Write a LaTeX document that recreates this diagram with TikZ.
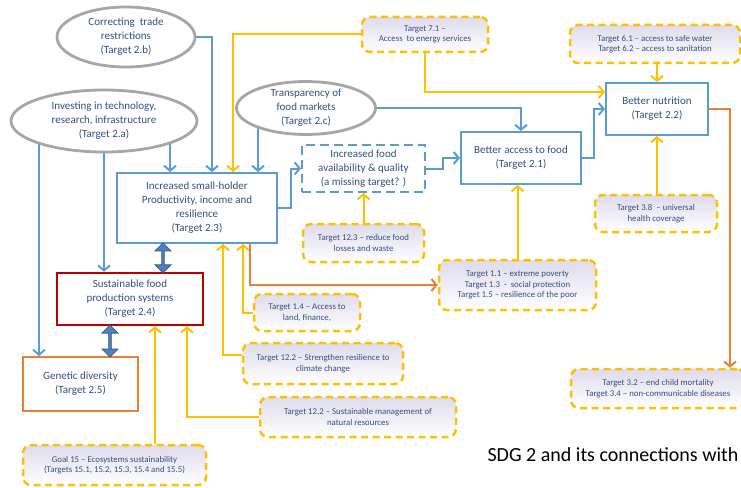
\documentclass[tikz,border=0pt]{standalone}
\usepackage{fontspec}
\setmainfont{Carlito}
\usetikzlibrary{positioning,calc,arrows.meta,shapes.geometric,shapes.arrows,backgrounds}
\definecolor{lineblue}{RGB}{91,155,213}
\definecolor{lineyellow}{RGB}{255,192,0}
\definecolor{lineorange}{RGB}{237,125,49}
\definecolor{boxred}{RGB}{192,0,0}
\definecolor{ringgray}{RGB}{166,166,166}
\definecolor{txtblue}{RGB}{52,80,128}
\definecolor{lav}{RGB}{222,219,236}
\definecolor{dblfill}{RGB}{79,129,189}
\definecolor{dbledge}{RGB}{56,93,138}

\tikzset{
  bigtxt/.style={font=\fontsize{11}{14}\selectfont, text=txtblue, align=center},
  smalltxt/.style={font=\fontsize{8.8}{10.5}\selectfont, text=txtblue, align=center},
  goalring/.style={ellipse, draw=ringgray, line width=2.8pt, fill=white, inner sep=0pt, bigtxt},
  sdgbox/.style={rectangle, draw=lineblue, line width=2pt, fill=white, inner sep=0pt, bigtxt},
  linkbox/.style={rectangle, rounded corners=8pt, draw=lineyellow, line width=2.5pt,
    dash pattern=on 7pt off 4.5pt, top color=lav, bottom color=white, inner sep=0pt, smalltxt},
  blu/.style={draw=lineblue, line width=2pt, -{Straight Barb[length=5pt,width=12pt]}},
  ylw/.style={draw=lineyellow, line width=2pt, -{Straight Barb[length=5pt,width=12pt]}},
  org/.style={draw=lineorange, line width=2pt, -{Straight Barb[length=5pt,width=12pt]}},
  dbl/.style={double arrow, draw=dbledge, fill=dblfill, line width=0.8pt, rotate=90,
    minimum width=16pt, double arrow head extend=2pt, inner sep=0pt}
}

\begin{document}
\begin{tikzpicture}[x=1pt, y=-1pt]
        \useasboundingbox (0,0) rectangle (741,487);

        \node[goalring, minimum width=138pt, minimum height=60pt] (trade) at (126,37) {Correcting\ \ trade\\restrictions\\(Target 2.b)};
        \node[goalring, minimum width=186pt, minimum height=62pt] (invest) at (104,121) {Investing in technology,\\research, infrastructure\\(Target 2.a)};
        \node[goalring, minimum width=139pt, minimum height=42pt] (transp) at (306,108) {Transparency of\\food markets\\(Target 2.c)};

        \node[sdgbox, minimum width=160pt, minimum height=70pt] (hold) at (197,208) {Increased small-holder\\Productivity, income and\\resilience\\(Target 2.3)};
        \node[sdgbox, dash pattern=on 9pt off 5pt, minimum width=123pt, minimum height=47pt] (avail) at (363.5,168.5) {Increased food\\availability \& quality\\(a missing target? )};
        \node[sdgbox, minimum width=120pt, minimum height=52pt] (access) at (521,158) {Better access to food\\(Target 2.1)};
        \node[sdgbox, minimum width=102pt, minimum height=52pt] (nutr) at (657,109) {Better nutrition\\(Target 2.2)};
        \node[sdgbox, draw=boxred, line width=2.5pt, minimum width=146pt, minimum height=52pt] (sfp) at (130,299) {Sustainable food\\production systems\\(Target 2.4)};
        \node[sdgbox, draw=lineorange, minimum width=115pt, minimum height=54pt] (gen) at (80.5,384) {Genetic diversity\\(Target 2.5)};

        \node[linkbox, minimum width=126pt, minimum height=35pt] (t71) at (425,34.5) {Target 7.1 --\\Access\ \ to energy services};
        \node[linkbox, minimum width=170pt, minimum height=38pt] (t61) at (655,44) {Target 6.1 -- access to safe water\\Target 6.2 -- access to sanitation};
        \node[linkbox, minimum width=121pt, minimum height=38pt] (t123) at (363.5,243) {Target 12.3 -- reduce food\\losses and waste};
        \node[linkbox, minimum width=122pt, minimum height=37pt] (t38) at (656,213.5) {Target 3.8\ \ -- universal\\health coverage};
        \node[linkbox, minimum width=157pt, minimum height=50pt] (t11) at (517.5,285) {Target 1.1 -- extreme poverty\\Target 1.3\ \ -\ \ social protection\\Target 1.5 -- resilience of the poor};
        \node[linkbox, minimum width=106pt, minimum height=37pt] (t14) at (307,312.5) {Target 1.4 -- Access to\\land, finance,};
        \node[linkbox, minimum width=160pt, minimum height=41pt] (t122a) at (323,363.5) {Target 12.2 -- Strengthen resilience to\\climate change};
        \node[linkbox, minimum width=196pt, minimum height=40pt] (t122b) at (358,417) {Target 12.2 -- Sustainable management of\\natural resources};
        \node[linkbox, minimum width=174pt, minimum height=39pt] (t32) at (658,388.5) {Target 3.2 -- end child mortality\\Target 3.4 -- non-communicable diseases};
        \node[linkbox, minimum width=183pt, minimum height=40pt] (g15) at (114.5,465) {Goal 15 -- Ecosystems sustainability\\(Targets 15.1, 15.2, 15.3, 15.4 and 15.5)};

        \node[anchor=west, font=\fontsize{20}{24}\selectfont] (title) at (484,455) {SDG 2 and its connections with};

        \begin{scope}[on background layer]
        \draw[blu] (invest.center -| 39,0) -- (gen.north -| 39,0);
        \draw[blu] (invest.center -| 170,0) -- (hold.north -| 170,0);
        \draw[blu] (transp.center -| 258,0) -- (hold.north -| 258,0);
        \end{scope}

        \draw[blu] (trade.east) -| (hold.north -| 212,0);
        \draw[blu] (invest.south) -- (sfp.north -| invest.south);
        \draw[blu] (transp.east) -| (access.north);
        \draw[blu] (hold.east) -- ++(13,0) |- (avail.west);
        \draw[blu] (avail.east) -- ++(17,0) |- (access.west);
        \draw[blu] (access.east) -- ++(12,0) |- (nutr.west);

        \draw[ylw] (t71.west) -| (hold.north -| 233,0);
        \draw[ylw] (t71.south) |- (nutr.west |- 0,92);
        \draw[ylw] (t61.south -| nutr.north) -- (nutr.north);
        \draw[ylw] (t38.north -| nutr.south) -- (nutr.south);
        \draw[ylw] (t11.north) -- (access.south -| t11.north);
        \draw[ylw] (t123.north) -- (avail.south -| t123.north);
        \draw[ylw] (t14.west) -| (hold.south -| 243,0);
        \draw[ylw] (t122a.west |- 0,355) -| (hold.south -| 223,0);
        \draw[ylw] (t122b.west) -| (sfp.south -| 187,0);
        \draw[ylw] (g15.north -| 155,0) -- (sfp.south -| 155,0);

        \draw[org] (hold.south -| 250,0) |- (t11.west);
        \draw[org] (nutr.east) -| (t32.north -| 730,0);

        \path (hold.south -| 163,0) -- (sfp.north -| 163,0) node[dbl, midway, minimum height=30pt] (dblA) {};
        \path (sfp.south -| 110,0) -- (gen.north -| 110,0) node[dbl, midway, minimum height=32pt] (dblB) {};
\end{tikzpicture}
\end{document}
